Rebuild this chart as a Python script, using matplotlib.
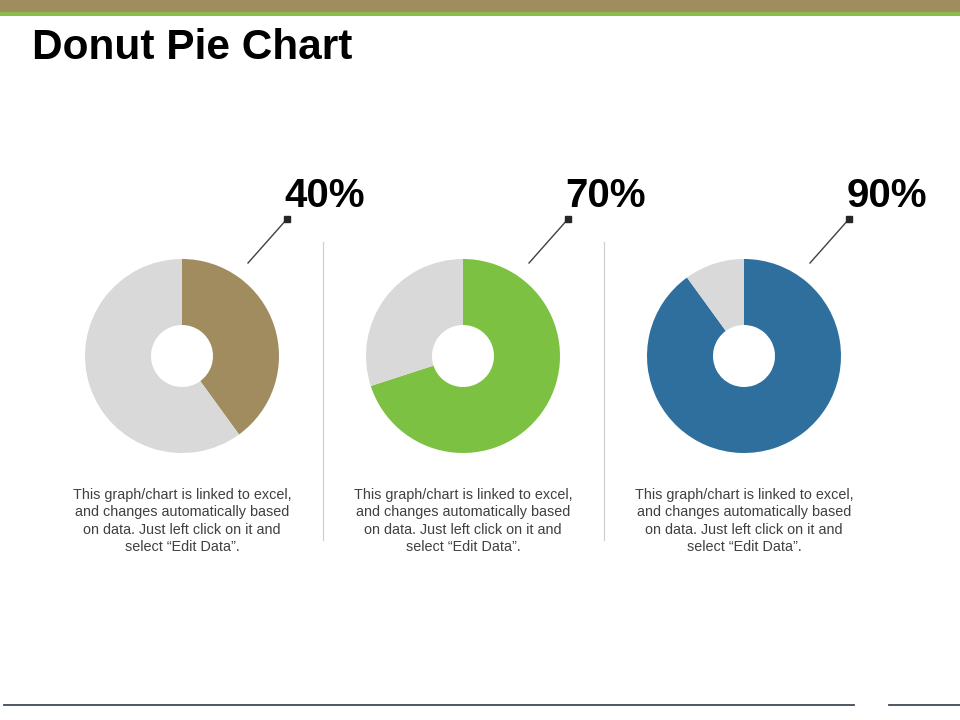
import matplotlib.pyplot as plt

# chart data
values = [40, 70, 90]
labels = ['40%', '70%', '90%']
main_colors = ['#A08C5E', '#7DC142', '#2E6F9E']
rest_color = '#D9D9D9'
note = 'This graph/chart is linked to excel,\nand changes automatically based\non data. Just left click on it and\nselect \u201cEdit Data\u201d.'

W, H = 960, 720
centers = [182, 463, 744]
cy = 356
r_out = 97
r_in = 31

plt.rcParams['font.family'] = ['Liberation Sans', 'DejaVu Sans']

fig = plt.figure(figsize=(9.6, 7.2), dpi=100)
fig.patch.set_facecolor('white')

# background axes in pixel coordinates
bg = fig.add_axes([0, 0, 1, 1])
bg.set_xlim(0, W)
bg.set_ylim(H, 0)
bg.axis('off')

# top band
bg.fill_between([0, W], 0, 12, color='#9F8D5F', lw=0)
bg.fill_between([0, W], 12, 16, color='#8DBB4C', lw=0)

# title
bg.text(32, 48, 'Donut Pie Chart', fontsize=30.5, fontweight='bold', color='black', va='center', ha='left')

# bottom lines
bg.plot([4, 854], [705, 705], color='#3F4A55', lw=1.3)
bg.plot([889, 960], [705, 705], color='#3F4A55', lw=1.3)

# dividers
for x in [323, 604]:
    bg.plot([x, x], [242, 540], color='#D0D0D0', lw=0.9)

for i in range(len(values)):
    cx = centers[i]
    # donut
    ax = fig.add_axes([(cx - r_out) / W, (H - cy - r_out) / H, 2 * r_out / W, 2 * r_out / H])
    ax.pie([values[i], 100 - values[i]], colors=[main_colors[i], rest_color], startangle=90,
           counterclock=False, radius=1, wedgeprops=dict(width=1 - r_in / r_out, linewidth=0))
    ax.set_xlim(-1, 1)
    ax.set_ylim(-1, 1)
    ax.axis('off')

    # leader line with marker
    x0, y0 = cx + 66, 263
    x1, y1 = cx + 105, 219
    bg.plot([x0, x1], [y0, y1], color='#404040', lw=1)
    bg.plot([x1], [y1], marker='s', color='#262626', markersize=4.5)
    bg.text(cx + 143, 196, labels[i], fontsize=29, fontweight='bold', color='black', ha='center', va='center')

    # description
    bg.text(cx, 521, note, fontsize=10.4, color='#404040', ha='center', va='center', linespacing=1.3)

fig.savefig('out.png', dpi=100)
